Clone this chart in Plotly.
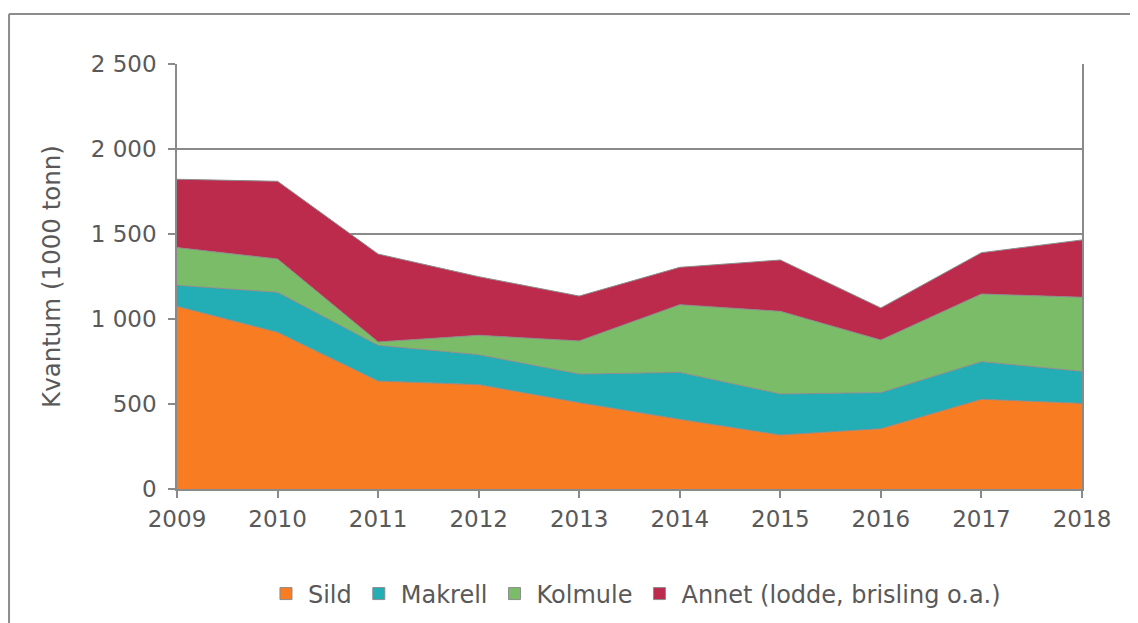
import plotly.graph_objects as go

years = [2009, 2010, 2011, 2012, 2013, 2014, 2015, 2016, 2017, 2018]
sild = [1075, 922, 635, 614, 508, 410, 318, 355, 528, 504]
makrell = [123, 235, 210, 176, 168, 276, 241, 212, 221, 188]
kolmule = [222, 196, 20, 114, 195, 398, 486, 309, 398, 436]
annet = [402, 457, 517, 345, 264, 220, 302, 189, 243, 337]

series_names = ["Sild", "Makrell", "Kolmule", "Annet (lodde, brisling o.a.)"]
series_colors = ["#F87C22", "#22AEB4", "#7BBC69", "#BC2B4C"]

y_tickvals = [0, 500, 1000, 1500, 2000, 2500]
y_ticktext = ["0", "500", "1 000", "1 500", "2 000", "2 500"]
y_title = "Kvantum (1000 tonn)"

FONT = "DejaVu Sans, Verdana, sans-serif"
TXT = "#595959"
GRID = "#8A8A8A"

fig = go.Figure()
for name, vals, col in zip(series_names, [sild, makrell, kolmule, annet], series_colors):
    fig.add_trace(go.Scatter(
        x=years, y=vals, name=name, mode="lines", stackgroup="one",
        fillcolor=col, line=dict(color="#8C8C8C", width=1),
        showlegend=False, legendgroup=name,
    ))
# legend entries as square markers
for name, col in zip(series_names, series_colors):
    fig.add_trace(go.Scatter(
        x=[None], y=[None], name=name, mode="markers", legendgroup=name,
        marker=dict(symbol="square", size=12, color=col, line=dict(color="#8C8C8C", width=1)),
        showlegend=True, hoverinfo="skip",
    ))

fig.update_layout(
    width=1130, height=615,
    margin=dict(l=169, r=56, t=56, b=134, autoexpand=False),
    paper_bgcolor="white", plot_bgcolor="white",
    font=dict(family=FONT, color=TXT, size=23),
    showlegend=True,
    legend=dict(orientation="h", x=0.0961, xanchor="left", y=-0.247, yanchor="middle",
                font=dict(size=24, color=TXT, family=FONT), traceorder="normal",
                itemwidth=34),
    xaxis=dict(range=[2009, 2018], tickvals=years, ticks="outside", ticklen=7,
               tickcolor=GRID, tickwidth=1.5, showgrid=False, zeroline=False,
               showline=True, linecolor=GRID, linewidth=1.5, ticklabelstandoff=2,
               automargin=False,
               tickfont=dict(size=23, color=TXT, family=FONT)),
    yaxis=dict(range=[0, 2500], tickvals=y_tickvals, ticktext=y_ticktext,
               ticks="outside", ticklen=7, tickcolor=GRID, tickwidth=1.5,
               showgrid=True, gridcolor=GRID, gridwidth=1.5, zeroline=False,
               showline=True, linecolor=GRID, linewidth=1.5, mirror=True,
               ticklabelstandoff=7, automargin=False,
               tickfont=dict(size=23, color=TXT, family=FONT),
               title=dict(text=y_title, font=dict(size=24.5, color=TXT, family=FONT), standoff=23)),
    shapes=[
        dict(type="line", xref="paper", yref="paper", x0=-0.1856, x1=1.1, y0=1.1176, y1=1.1176,
             line=dict(color="#8C8C8C", width=2)),
        dict(type="line", xref="paper", yref="paper", x0=-0.1856, x1=-0.1856, y0=1.1176, y1=-0.4,
             line=dict(color="#8C8C8C", width=2)),
    ],
)

fig.write_html("out.html")
